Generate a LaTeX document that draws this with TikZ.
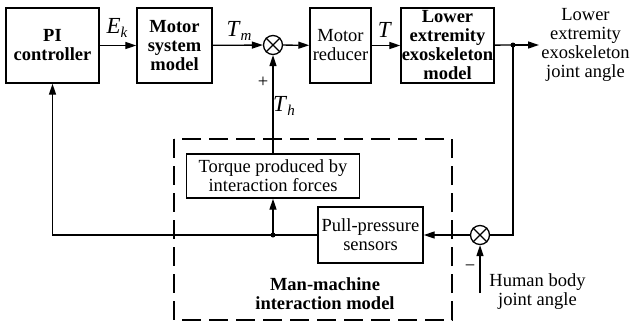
\documentclass[tikz,border=0pt]{standalone}
\usepackage{fontspec}
\setmainfont{Liberation Serif}
\usetikzlibrary{arrows.meta}
\newcommand{\subl}[2]{\textit{#1}\raisebox{-0.45ex}{\fontsize{15}{15}\selectfont\textit{#2}}}
\begin{document}
\begin{tikzpicture}[x=1pt,y=-1pt,
  box/.style={draw,line width=1.4pt,inner sep=0pt,align=center,font=\fontsize{18.5}{19}\selectfont},
  bbox/.style={box,font=\fontsize{18.5}{19}\selectfont\bfseries},
  sumj/.style={draw,circle,line width=1.3pt,minimum size=19pt,inner sep=0pt},
  txt/.style={align=center,inner sep=0pt,font=\fontsize{18.5}{19}\selectfont},
  mlab/.style={inner sep=0pt,font=\fontsize{23}{23}\selectfont},
  conn/.style={line width=1.3pt},
  arr/.style={conn,-{Triangle[length=11pt,width=7pt]}},
  dotn/.style={circle,fill,inner sep=0pt,minimum size=5pt}]
\useasboundingbox (0,0) rectangle (631,322);
% blocks
\node[bbox,minimum width=93pt,minimum height=75pt] (pi) at (52.5,45.5) {PI\\controller};
\node[bbox,minimum width=75pt,minimum height=75pt] (msm) at (174.5,45.5) {Motor\\system\\model};
\node[sumj] (s1) at (273,45) {};
\draw[conn] (s1.north east) -- (s1.south west) (s1.north west) -- (s1.south east);
\node[box,minimum width=61pt,minimum height=75pt] (mr) at (340.5,45.5) {Motor\\reducer};
\node[bbox,minimum width=93pt,minimum height=75pt] (lem) at (447.5,45.5) {Lower\\extremity\\exoskeleton\\model};
\node[dotn] (d1) at (513,45) {};
\coordinate (out) at (539,45);
\node[txt] (outl) at (585.5,45) {Lower\\extremity\\exoskeleton\\joint angle};
\node[sumj] (s2) at (480,235) {};
\draw[conn] (s2.north east) -- (s2.south west) (s2.north west) -- (s2.south east);
\node[box,minimum width=105pt,minimum height=56pt] (pull) at (370.5,235) {Pull-pressure\\sensors};
\node[box,minimum width=173pt,minimum height=44pt] (tq) at (273,176) {Torque produced by\\interaction forces};
\node[dotn] (d2) at (273,235) {};
\coordinate (hb) at (480,293);
\node[txt] (hbl) at (537.5,292) {Human body\\joint angle};
% dashed frame
\draw[line width=1.3pt,dash pattern=on 19pt off 8pt] (174,139) rectangle (452,320);
\node[txt,font=\fontsize{18.5}{19}\selectfont\bfseries] (mm) at (325,294) {Man-machine\\interaction model};
% labels
\node[mlab] (ek) at (117,28) {\subl{E}{k}};
\node[mlab] (tm) at (239,31) {\subl{T}{m}};
\node[mlab] (tt) at (385,30) {\textit{T}};
\node[mlab] (th) at (284,106) {\subl{T}{h}};
\node[txt] (plus) at (263,82) {+};
\node[txt] (minus) at (470,268) {\textminus};
% connectors
\draw[arr] (pi) -- (msm);
\draw[arr] (msm) -- (s1);
\draw[arr] (s1) -- (mr);
\draw[arr] (mr) -- (lem);
\draw[conn] (lem) -- (d1.center);
\draw[arr] (d1.center) -- (out);
\draw[conn] (d1.center) |- (s2.east);
\draw[arr] (s2) -- (pull);
\draw[arr] (pull.west) -| (pi.south);
\draw[arr] (d2.center) -- (tq.south);
\draw[arr] (tq.north) -- (s1.south);
\draw[arr] (hb) -- (s2.south);
\end{tikzpicture}
\end{document}
